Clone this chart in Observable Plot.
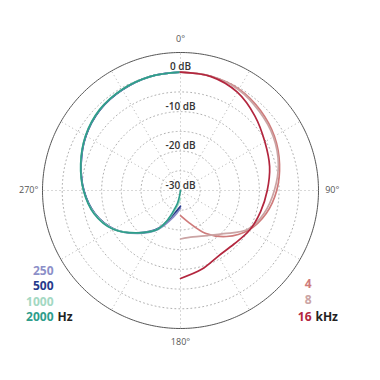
<!DOCTYPE html>
<html><head><meta charset="utf-8">
<script src="https://cdn.jsdelivr.net/npm/d3@7"></script>
<script src="https://cdn.jsdelivr.net/npm/@observablehq/plot@0.6"></script>
<style>body{margin:0;background:#fff;font-family:"Open Sans",sans-serif}</style>
</head><body><div id="chart"></div>
<script>
// angles in degrees (0 = front), responses in dB
const angles = [0, 15, 30, 45, 60, 75, 90, 105, 120, 135, 150, 165, 180];
const low250  = [0, -0.1, -0.5, -1.1, -2.3, -3.9, -5.5, -7.5, -10.5, -14.6, -18.6, -23.0, -25.5];
const low500  = [0, -0.1, -0.5, -1.1, -2.3, -3.9, -5.5, -7.5, -10.5, -14.8, -19.0, -24.0, -26.0];
const low1000 = [0, -0.1, -0.4, -1.0, -2.2, -3.8, -5.4, -7.4, -10.4, -14.8, -18.8, -25.0, -28.0];
const low2000 = [0, -0.1, -0.4, -1.0, -2.2, -3.8, -5.4, -7.3, -10.3, -14.8, -18.7, -26.0, -30.0];
const high4k  = [0, 0, -0.3, -1.3, -2.5, -4.0, -5.6, -7.5, -10.0, -13.5, -17.5, -21.5, -23.6];
const high8k  = [0, 0, -0.5, -1.7, -2.8, -4.3, -6.2, -8.0, -10.3, -14.5, -16.8, -17.8, -17.7];
const high16k = [0, -0.1, -1.2, -3.3, -5.3, -6.6, -8.0, -9.0, -9.8, -10.8, -10.8, -9.3, -7.7];

const lowLabels = ["250", "500", "1000", "2000"];
const highLabels = ["4", "8", "16"];
const lowColors = ["#8c8fc8", "#263a8c", "#a3d8c2", "#2e9d8b"];
const highColors = ["#cf7b7b", "#cba4a4", "#b3263e"];
const ringDb = [-25, -20, -15, -10, -5, 0];
const labelDb = [0, -10, -20, -30];
const spokeAngles = [0, 30, 60, 90, 120, 150, 180, 210, 240, 270, 300, 330];
const angleLabels = ["0°", "90°", "180°", "270°"];
const angleLabelPos = [0, 90, 180, 270];

const minDb = -30, maxDb = 5;
const lat = db => 90 - (Math.max(db, minDb) - minDb);
const lonOf = a => 180 - a; // clockwise from top

const lowSeries = [low250, low500, low1000, low2000];
const highSeries = [high4k, high8k, high16k];
const rows = [];
lowSeries.forEach((s, i) => s.forEach((db, j) => rows.push({series: lowLabels[i] + " Hz", lon: lonOf(-angles[j]), lat: lat(db)})));
highSeries.forEach((s, i) => s.forEach((db, j) => rows.push({series: highLabels[i] + " kHz", lon: lonOf(angles[j]), lat: lat(db)})));

const outer = d3.geoCircle().center([0, 90]).radius(maxDb - minDb).precision(1)();
const rings = ringDb.map(db => d3.geoCircle().center([0, 90]).radius(db - minDb).precision(1)());

const legendStyle = {fontSize: 12, fontWeight: 700};
const lowLegend = lowLabels.map((d, i) => Plot.text([d], {frameAnchor: "bottom-left", text: d => d, textAnchor: "end", dx: 11, dy: -54 + i * 15.5, fill: lowColors[i], ...legendStyle}));
const highLegend = highLabels.map((d, i) => Plot.text([d], {frameAnchor: "bottom-right", text: d => d, textAnchor: "end", dx: -7, dy: -41 + i * 16.5, fill: highColors[i], ...legendStyle}));

const chart = Plot.plot({
  width: 380, height: 380,
  marginLeft: 42, marginRight: 62, marginTop: 52, marginBottom: 52,
  style: {fontFamily: "Open Sans, sans-serif"},
  projection: {type: "azimuthal-equidistant", rotate: [0, -90], domain: outer, clip: false},
  color: {domain: [...lowLabels.map(d => d + " Hz"), ...highLabels.map(d => d + " kHz")], range: [...lowColors, ...highColors]},
  marks: [
    Plot.geo(rings, {stroke: "#b0b0b0", strokeDasharray: "1,3", strokeWidth: 1}),
    Plot.link(spokeAngles, {x1: d => lonOf(d), y1: 90, x2: d => lonOf(d), y2: lat(maxDb), stroke: "#b0b0b0", strokeDasharray: "1,3", strokeWidth: 1}),
    Plot.geo(outer, {stroke: "#555", strokeWidth: 1}),
    Plot.line(rows, {x: "lon", y: "lat", z: "series", stroke: "series", strokeWidth: 1.7, curve: "catmull-rom"}),
    Plot.text(labelDb, {x: lonOf(0), y: d => lat(d), text: d => `${d} dB`, dy: -5, fontSize: 10, fontWeight: 600, fill: "#333", stroke: "white", strokeWidth: 2}),
    Plot.text(angleLabelPos, {x: d => lonOf(d), y: lat(maxDb + 3.5), text: (d, i) => angleLabels[i], fontSize: 9, fill: "#555"}),
    ...lowLegend,
    Plot.text(["Hz"], {frameAnchor: "bottom-left", text: d => d, textAnchor: "start", dx: 15, dy: -7.5, fill: "#222", ...legendStyle}),
    ...highLegend,
    Plot.text(["kHz"], {frameAnchor: "bottom-right", text: d => d, textAnchor: "start", dx: -3, dy: -8, fill: "#222", ...legendStyle})
  ]
});
document.getElementById("chart").append(chart);
</script></body></html>
